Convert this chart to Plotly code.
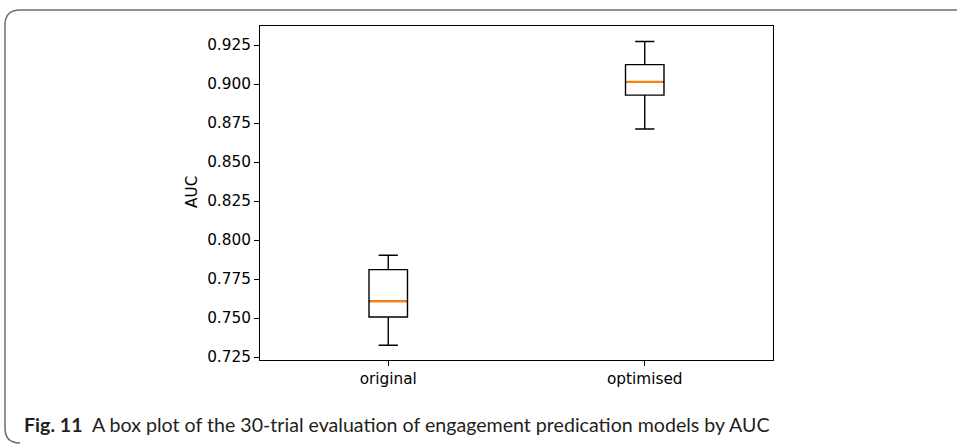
import plotly.graph_objects as go

categories = ["original", "optimised"]
positions = [1, 2]
lower_whisker = [0.7325, 0.8712]
q1_vals = [0.7506, 0.8929]
median_vals = [0.7607, 0.9013]
q3_vals = [0.7810, 0.9124]
upper_whisker = [0.7902, 0.9272]
y_ticks = [0.725, 0.750, 0.775, 0.800, 0.825, 0.850, 0.875, 0.900, 0.925]

W, H = 957, 444
L, R, T, B = 260, 773, 26, 360
box_w = 0.15
fs = 15.3

fig = go.Figure()
for i, cat in enumerate(categories):
    fig.add_trace(go.Box(
        x=[positions[i]], q1=[q1_vals[i]], median=[median_vals[i]], q3=[q3_vals[i]],
        lowerfence=[lower_whisker[i]], upperfence=[upper_whisker[i]],
        width=box_w, whiskerwidth=0.5, fillcolor="rgba(0,0,0,0)",
        line=dict(color="black", width=1.4), boxpoints=False, name=cat,
        hoverinfo="skip", showlegend=False))
    fig.add_trace(go.Scatter(
        x=[positions[i] - box_w / 2 + 0.004, positions[i] + box_w / 2 - 0.004],
        y=[median_vals[i], median_vals[i]], mode="lines",
        line=dict(color="#ff7f0e", width=2.2), showlegend=False, hoverinfo="skip"))

def px_x(p):
    return (p - L) / (R - L)

def px_y(p):
    return (B - p) / (B - T)

fig.update_layout(
    width=W, height=H,
    margin=dict(l=L, r=W - R, t=T, b=H - B),
    paper_bgcolor="white", plot_bgcolor="white",
    font=dict(family="DejaVu Sans", size=fs, color="black"),
    xaxis=dict(range=[0.5, 2.5], tickvals=positions, ticktext=categories,
               showgrid=False, zeroline=False, showline=True, linecolor="black",
               linewidth=1, mirror=True, ticks="outside", ticklen=5,
               tickcolor="black", tickfont=dict(size=fs)),
    yaxis=dict(range=[0.72308, 0.93718], tickvals=y_ticks,
               ticktext=[f"{v:.3f}" for v in y_ticks],
               showgrid=False, zeroline=False, showline=True, linecolor="black",
               linewidth=1, mirror=True, ticks="outside", ticklen=5,
               tickcolor="black", tickfont=dict(size=fs)),
    annotations=[
        dict(text="AUC", xref="paper", yref="paper", x=px_x(192), y=px_y(192),
             showarrow=False, textangle=-90, font=dict(size=fs, family="DejaVu Sans"),
             xanchor="center", yanchor="middle"),
        dict(text="<b>Fig. 11</b>  A box plot of the 30-trial evaluation of engagement predication models by AUC",
             xref="paper", yref="paper", x=px_x(22), y=px_y(424),
             showarrow=False, xanchor="left", yanchor="middle",
             font=dict(size=19.6, family="Lato", color="#231f20")),
    ],
    shapes=[
        dict(type="path", xref="paper", yref="paper", layer="above",
             path=(f"M {px_x(960)},{px_y(10)} L {px_x(20)},{px_y(10)} "
                   f"Q {px_x(5)},{px_y(10)} {px_x(5)},{px_y(25)} "
                   f"L {px_x(5)},{px_y(428)} Q {px_x(5)},{px_y(443)} {px_x(20)},{px_y(443)}"),
             line=dict(color="#6e6e6e", width=1.5)),
    ],
)

fig.write_html("out.html", config={"displayModeBar": False},
               post_script="document.body.style.margin='0';document.body.style.padding='0';")
